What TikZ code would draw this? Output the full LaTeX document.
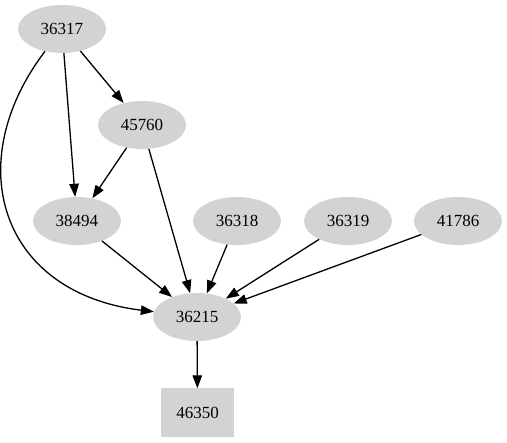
\documentclass[tikz,border=0pt]{standalone}
\usepackage{fontspec}
\setmainfont{Liberation Serif}
\usetikzlibrary{shapes.geometric,arrows.meta}
\definecolor{nodegray}{RGB}{211,211,211}

\begin{document}
\begin{tikzpicture}[x=1pt,y=1pt,
   pkg/.style={ellipse, fill=nodegray, minimum width=88pt, minimum height=48pt, inner sep=0pt, font=\fontsize{17}{20}\selectfont},
   leaf/.style={rectangle, fill=nodegray, minimum width=73pt, minimum height=49pt, inner sep=0pt, font=\fontsize{17}{20}\selectfont},
   dep/.style={line width=1.3pt, -{Triangle[length=13pt,width=9.5pt]}}]

   \useasboundingbox (0,0) rectangle (507,443);

% Knoten
   \node[pkg] (n36317) at (62,414) {36317};
   \node[pkg] (n45760) at (142,318) {45760};
   \node[pkg] (n38494) at (77,222) {38494};
   \node[pkg] (n36318) at (237,222) {36318};
   \node[pkg] (n36319) at (348,222) {36319};
   \node[pkg] (n41786) at (458,222) {41786};
   \node[pkg] (n36215) at (197,126) {36215};
   \node[leaf] (n46350) at (197.5,30) {46350};

% Kanten
   \draw[dep] (n36317) -- (n45760);
   \draw[dep] (n36317) -- (n38494);
   \draw[dep] (n36317) .. controls (-40,280) and (0,150) .. (n36215);
   \draw[dep] (n45760) -- (n38494);
   \draw[dep] (n45760) -- (n36215);
   \draw[dep] (n38494) -- (n36215);
   \draw[dep] (n36318) -- (n36215);
   \draw[dep] (n36319) -- (n36215);
   \draw[dep] (n41786) -- (n36215);
   \draw[dep] (n36215) -- (n46350);

\end{tikzpicture}
\end{document}
